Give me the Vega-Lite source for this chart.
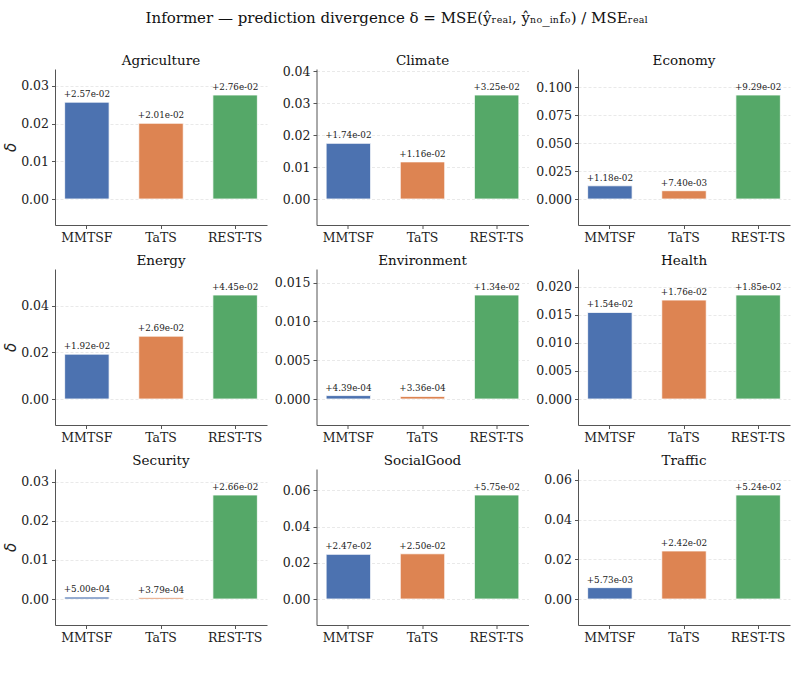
{
  "$schema": "https://vega.github.io/schema/vega-lite/v6.json",
  "background": "white",
  "padding": {"left": 3, "top": 10, "right": 5, "bottom": 5},
  "title": {
    "text": "Informer — prediction divergence  δ = MSE(ŷᵣₑₐₗ, ŷₙₒ_ᵢₙfₒ) / MSEᵣₑₐₗ",
    "font": "DejaVu Serif",
    "fontSize": 15,
    "fontWeight": "normal",
    "color": "#111",
    "anchor": "middle",
    "frame": "bounds",
    "offset": 28
  },
  "datasets": {
    "d": [
      {"domain": "Agriculture", "model": "MMTSF", "delta": 0.0257},
      {"domain": "Agriculture", "model": "TaTS", "delta": 0.0201},
      {"domain": "Agriculture", "model": "REST-TS", "delta": 0.0276},
      {"domain": "Climate", "model": "MMTSF", "delta": 0.0174},
      {"domain": "Climate", "model": "TaTS", "delta": 0.0116},
      {"domain": "Climate", "model": "REST-TS", "delta": 0.0325},
      {"domain": "Economy", "model": "MMTSF", "delta": 0.0118},
      {"domain": "Economy", "model": "TaTS", "delta": 0.0074},
      {"domain": "Economy", "model": "REST-TS", "delta": 0.0929},
      {"domain": "Energy", "model": "MMTSF", "delta": 0.0192},
      {"domain": "Energy", "model": "TaTS", "delta": 0.0269},
      {"domain": "Energy", "model": "REST-TS", "delta": 0.0445},
      {"domain": "Environment", "model": "MMTSF", "delta": 0.000439},
      {"domain": "Environment", "model": "TaTS", "delta": 0.000336},
      {"domain": "Environment", "model": "REST-TS", "delta": 0.0134},
      {"domain": "Health", "model": "MMTSF", "delta": 0.0154},
      {"domain": "Health", "model": "TaTS", "delta": 0.0176},
      {"domain": "Health", "model": "REST-TS", "delta": 0.0185},
      {"domain": "Security", "model": "MMTSF", "delta": 0.0005},
      {"domain": "Security", "model": "TaTS", "delta": 0.000379},
      {"domain": "Security", "model": "REST-TS", "delta": 0.0266},
      {"domain": "SocialGood", "model": "MMTSF", "delta": 0.0247},
      {"domain": "SocialGood", "model": "TaTS", "delta": 0.025},
      {"domain": "SocialGood", "model": "REST-TS", "delta": 0.0575},
      {"domain": "Traffic", "model": "MMTSF", "delta": 0.00573},
      {"domain": "Traffic", "model": "TaTS", "delta": 0.0242},
      {"domain": "Traffic", "model": "REST-TS", "delta": 0.0524}
    ]
  },
  "columns": 3,
  "spacing": {"row": 44, "column": 49.5},
  "bounds": "flush",
  "concat": [
    {
      "title": "Agriculture",
      "width": 212, "height": 156,
      "data": {"name": "d"},
      "transform": [{"filter": "datum.domain === 'Agriculture'"}, {"calculate": "replace(format(datum.delta, '+.2e'), 'e-', 'e-0')", "as": "label"}],
      "encoding": {
        "x": {"field": "model", "type": "nominal", "sort": ["MMTSF", "TaTS", "REST-TS"], "scale": {"paddingInner": 0.4, "paddingOuter": 0.13}, "axis": {"title": null}},
        "y": {"field": "delta", "type": "quantitative", "scale": {"domain": [-0.0069, 0.0345], "nice": false, "zero": false}, "axis": {"title": "δ", "values": [0, 0.01, 0.02, 0.03], "format": ".2f"}}
      },
      "layer": [
        {"mark": {"type": "bar", "stroke": "white", "strokeWidth": 0.8}, "encoding": {"color": {"field": "model", "type": "nominal", "scale": {"domain": ["MMTSF", "TaTS", "REST-TS"], "range": ["#4c72b0", "#dd8452", "#55a868"]}, "legend": null}}},
        {"mark": {"type": "text", "dy": -3, "baseline": "bottom", "font": "DejaVu Serif", "fontSize": 8.8, "color": "#222"}, "encoding": {"text": {"field": "label"}}},
        {"mark": {"type": "rule", "color": "#777777", "strokeWidth": 1.2}, "encoding": {"y": {"datum": 0, "type": "quantitative"}}}
      ]
    },
    {
      "title": {"text": "Climate", "offset": -2},
      "width": 212, "height": 156,
      "data": {"name": "d"},
      "transform": [{"filter": "datum.domain === 'Climate'"}, {"calculate": "replace(format(datum.delta, '+.2e'), 'e-', 'e-0')", "as": "label"}],
      "encoding": {
        "x": {"field": "model", "type": "nominal", "sort": ["MMTSF", "TaTS", "REST-TS"], "scale": {"paddingInner": 0.4, "paddingOuter": 0.13}, "axis": {"title": null}},
        "y": {"field": "delta", "type": "quantitative", "scale": {"domain": [-0.008125, 0.040625], "nice": false, "zero": false}, "axis": {"title": null, "values": [0, 0.01, 0.02, 0.03, 0.04], "format": ".2f"}}
      },
      "layer": [
        {"mark": {"type": "bar", "stroke": "white", "strokeWidth": 0.8}, "encoding": {"color": {"field": "model", "type": "nominal", "scale": {"domain": ["MMTSF", "TaTS", "REST-TS"], "range": ["#4c72b0", "#dd8452", "#55a868"]}, "legend": null}}},
        {"mark": {"type": "text", "dy": -3, "baseline": "bottom", "font": "DejaVu Serif", "fontSize": 8.8, "color": "#222"}, "encoding": {"text": {"field": "label"}}},
        {"mark": {"type": "rule", "color": "#777777", "strokeWidth": 1.2}, "encoding": {"y": {"datum": 0, "type": "quantitative"}}}
      ]
    },
    {
      "title": "Economy",
      "width": 212, "height": 156,
      "data": {"name": "d"},
      "transform": [{"filter": "datum.domain === 'Economy'"}, {"calculate": "replace(format(datum.delta, '+.2e'), 'e-', 'e-0')", "as": "label"}],
      "encoding": {
        "x": {"field": "model", "type": "nominal", "sort": ["MMTSF", "TaTS", "REST-TS"], "scale": {"paddingInner": 0.4, "paddingOuter": 0.13}, "axis": {"title": null}},
        "y": {"field": "delta", "type": "quantitative", "scale": {"domain": [-0.023225, 0.116125], "nice": false, "zero": false}, "axis": {"title": null, "values": [0, 0.025, 0.05, 0.075, 0.1], "format": ".3f"}}
      },
      "layer": [
        {"mark": {"type": "bar", "stroke": "white", "strokeWidth": 0.8}, "encoding": {"color": {"field": "model", "type": "nominal", "scale": {"domain": ["MMTSF", "TaTS", "REST-TS"], "range": ["#4c72b0", "#dd8452", "#55a868"]}, "legend": null}}},
        {"mark": {"type": "text", "dy": -3, "baseline": "bottom", "font": "DejaVu Serif", "fontSize": 8.8, "color": "#222"}, "encoding": {"text": {"field": "label"}}},
        {"mark": {"type": "rule", "color": "#777777", "strokeWidth": 1.2}, "encoding": {"y": {"datum": 0, "type": "quantitative"}}}
      ]
    },
    {
      "title": "Energy",
      "width": 212, "height": 156,
      "data": {"name": "d"},
      "transform": [{"filter": "datum.domain === 'Energy'"}, {"calculate": "replace(format(datum.delta, '+.2e'), 'e-', 'e-0')", "as": "label"}],
      "encoding": {
        "x": {"field": "model", "type": "nominal", "sort": ["MMTSF", "TaTS", "REST-TS"], "scale": {"paddingInner": 0.4, "paddingOuter": 0.13}, "axis": {"title": null}},
        "y": {"field": "delta", "type": "quantitative", "scale": {"domain": [-0.011125, 0.055625], "nice": false, "zero": false}, "axis": {"title": "δ", "values": [0, 0.02, 0.04], "format": ".2f"}}
      },
      "layer": [
        {"mark": {"type": "bar", "stroke": "white", "strokeWidth": 0.8}, "encoding": {"color": {"field": "model", "type": "nominal", "scale": {"domain": ["MMTSF", "TaTS", "REST-TS"], "range": ["#4c72b0", "#dd8452", "#55a868"]}, "legend": null}}},
        {"mark": {"type": "text", "dy": -3, "baseline": "bottom", "font": "DejaVu Serif", "fontSize": 8.8, "color": "#222"}, "encoding": {"text": {"field": "label"}}},
        {"mark": {"type": "rule", "color": "#777777", "strokeWidth": 1.2}, "encoding": {"y": {"datum": 0, "type": "quantitative"}}}
      ]
    },
    {
      "title": "Environment",
      "width": 212, "height": 156,
      "data": {"name": "d"},
      "transform": [{"filter": "datum.domain === 'Environment'"}, {"calculate": "replace(format(datum.delta, '+.2e'), 'e-', 'e-0')", "as": "label"}],
      "encoding": {
        "x": {"field": "model", "type": "nominal", "sort": ["MMTSF", "TaTS", "REST-TS"], "scale": {"paddingInner": 0.4, "paddingOuter": 0.13}, "axis": {"title": null}},
        "y": {"field": "delta", "type": "quantitative", "scale": {"domain": [-0.00335, 0.01675], "nice": false, "zero": false}, "axis": {"title": null, "values": [0, 0.005, 0.01, 0.015], "format": ".3f"}}
      },
      "layer": [
        {"mark": {"type": "bar", "stroke": "white", "strokeWidth": 0.8}, "encoding": {"color": {"field": "model", "type": "nominal", "scale": {"domain": ["MMTSF", "TaTS", "REST-TS"], "range": ["#4c72b0", "#dd8452", "#55a868"]}, "legend": null}}},
        {"mark": {"type": "text", "dy": -3, "baseline": "bottom", "font": "DejaVu Serif", "fontSize": 8.8, "color": "#222"}, "encoding": {"text": {"field": "label"}}},
        {"mark": {"type": "rule", "color": "#777777", "strokeWidth": 1.2}, "encoding": {"y": {"datum": 0, "type": "quantitative"}}}
      ]
    },
    {
      "title": "Health",
      "width": 212, "height": 156,
      "data": {"name": "d"},
      "transform": [{"filter": "datum.domain === 'Health'"}, {"calculate": "replace(format(datum.delta, '+.2e'), 'e-', 'e-0')", "as": "label"}],
      "encoding": {
        "x": {"field": "model", "type": "nominal", "sort": ["MMTSF", "TaTS", "REST-TS"], "scale": {"paddingInner": 0.4, "paddingOuter": 0.13}, "axis": {"title": null}},
        "y": {"field": "delta", "type": "quantitative", "scale": {"domain": [-0.004625, 0.023125], "nice": false, "zero": false}, "axis": {"title": null, "values": [0, 0.005, 0.01, 0.015, 0.02], "format": ".3f"}}
      },
      "layer": [
        {"mark": {"type": "bar", "stroke": "white", "strokeWidth": 0.8}, "encoding": {"color": {"field": "model", "type": "nominal", "scale": {"domain": ["MMTSF", "TaTS", "REST-TS"], "range": ["#4c72b0", "#dd8452", "#55a868"]}, "legend": null}}},
        {"mark": {"type": "text", "dy": -3, "baseline": "bottom", "font": "DejaVu Serif", "fontSize": 8.8, "color": "#222"}, "encoding": {"text": {"field": "label"}}},
        {"mark": {"type": "rule", "color": "#777777", "strokeWidth": 1.2}, "encoding": {"y": {"datum": 0, "type": "quantitative"}}}
      ]
    },
    {
      "title": "Security",
      "width": 212, "height": 156,
      "data": {"name": "d"},
      "transform": [{"filter": "datum.domain === 'Security'"}, {"calculate": "replace(format(datum.delta, '+.2e'), 'e-', 'e-0')", "as": "label"}],
      "encoding": {
        "x": {"field": "model", "type": "nominal", "sort": ["MMTSF", "TaTS", "REST-TS"], "scale": {"paddingInner": 0.4, "paddingOuter": 0.13}, "axis": {"title": null}},
        "y": {"field": "delta", "type": "quantitative", "scale": {"domain": [-0.00665, 0.03325], "nice": false, "zero": false}, "axis": {"title": "δ", "values": [0, 0.01, 0.02, 0.03], "format": ".2f"}}
      },
      "layer": [
        {"mark": {"type": "bar", "stroke": "white", "strokeWidth": 0.8}, "encoding": {"color": {"field": "model", "type": "nominal", "scale": {"domain": ["MMTSF", "TaTS", "REST-TS"], "range": ["#4c72b0", "#dd8452", "#55a868"]}, "legend": null}}},
        {"mark": {"type": "text", "dy": -3, "baseline": "bottom", "font": "DejaVu Serif", "fontSize": 8.8, "color": "#222"}, "encoding": {"text": {"field": "label"}}},
        {"mark": {"type": "rule", "color": "#777777", "strokeWidth": 1.2}, "encoding": {"y": {"datum": 0, "type": "quantitative"}}}
      ]
    },
    {
      "title": "SocialGood",
      "width": 212, "height": 156,
      "data": {"name": "d"},
      "transform": [{"filter": "datum.domain === 'SocialGood'"}, {"calculate": "replace(format(datum.delta, '+.2e'), 'e-', 'e-0')", "as": "label"}],
      "encoding": {
        "x": {"field": "model", "type": "nominal", "sort": ["MMTSF", "TaTS", "REST-TS"], "scale": {"paddingInner": 0.4, "paddingOuter": 0.13}, "axis": {"title": null}},
        "y": {"field": "delta", "type": "quantitative", "scale": {"domain": [-0.014375, 0.071875], "nice": false, "zero": false}, "axis": {"title": null, "values": [0, 0.02, 0.04, 0.06], "format": ".2f"}}
      },
      "layer": [
        {"mark": {"type": "bar", "stroke": "white", "strokeWidth": 0.8}, "encoding": {"color": {"field": "model", "type": "nominal", "scale": {"domain": ["MMTSF", "TaTS", "REST-TS"], "range": ["#4c72b0", "#dd8452", "#55a868"]}, "legend": null}}},
        {"mark": {"type": "text", "dy": -3, "baseline": "bottom", "font": "DejaVu Serif", "fontSize": 8.8, "color": "#222"}, "encoding": {"text": {"field": "label"}}},
        {"mark": {"type": "rule", "color": "#777777", "strokeWidth": 1.2}, "encoding": {"y": {"datum": 0, "type": "quantitative"}}}
      ]
    },
    {
      "title": "Traffic",
      "width": 212, "height": 156,
      "data": {"name": "d"},
      "transform": [{"filter": "datum.domain === 'Traffic'"}, {"calculate": "replace(format(datum.delta, '+.2e'), 'e-', 'e-0')", "as": "label"}],
      "encoding": {
        "x": {"field": "model", "type": "nominal", "sort": ["MMTSF", "TaTS", "REST-TS"], "scale": {"paddingInner": 0.4, "paddingOuter": 0.13}, "axis": {"title": null}},
        "y": {"field": "delta", "type": "quantitative", "scale": {"domain": [-0.0131, 0.0655], "nice": false, "zero": false}, "axis": {"title": null, "values": [0, 0.02, 0.04, 0.06], "format": ".2f"}}
      },
      "layer": [
        {"mark": {"type": "bar", "stroke": "white", "strokeWidth": 0.8}, "encoding": {"color": {"field": "model", "type": "nominal", "scale": {"domain": ["MMTSF", "TaTS", "REST-TS"], "range": ["#4c72b0", "#dd8452", "#55a868"]}, "legend": null}}},
        {"mark": {"type": "text", "dy": -3, "baseline": "bottom", "font": "DejaVu Serif", "fontSize": 8.8, "color": "#222"}, "encoding": {"text": {"field": "label"}}},
        {"mark": {"type": "rule", "color": "#777777", "strokeWidth": 1.2}, "encoding": {"y": {"datum": 0, "type": "quantitative"}}}
      ]
    }
  ],
  "resolve": {"scale": {"y": "independent", "x": "independent"}},
  "config": {
    "view": {"stroke": null},
    "title": {"font": "DejaVu Serif", "fontSize": 13.5, "fontWeight": "normal", "color": "#111", "offset": 2, "frame": "group"},
    "axis": {
      "domainColor": "#555",
      "domainWidth": 1,
      "tickColor": "#555",
      "tickSize": 3.5,
      "labelFont": "DejaVu Serif",
      "labelFontSize": 12.5,
      "labelColor": "#222",
      "titleFont": "DejaVu Sans",
      "titleFontSize": 15,
      "titleFontWeight": "normal",
      "titleFontStyle": "italic",
      "titleColor": "#222",
      "gridColor": "#e0e0e0",
      "gridDash": [3, 2],
      "gridWidth": 0.7
    },
    "axisX": {"grid": false, "labelAngle": 0, "labelPadding": 3},
    "axisY": {"grid": true, "labelPadding": 3, "titlePadding": 2}
  }
}
